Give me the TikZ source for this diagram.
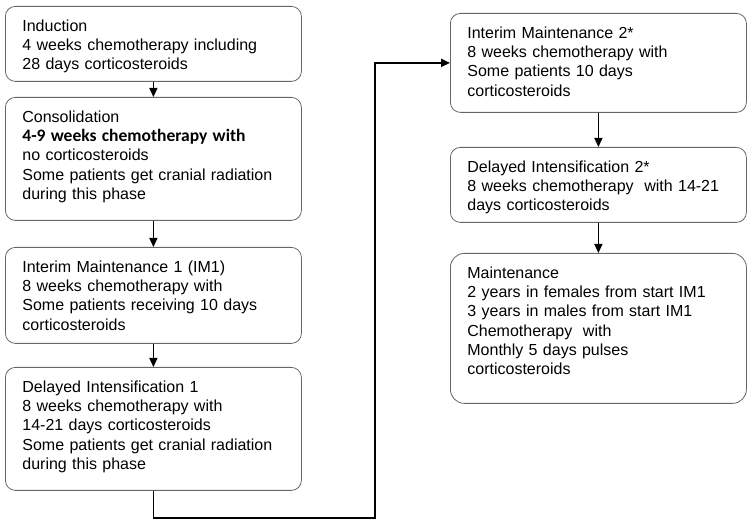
\documentclass[tikz,border=0pt]{standalone}
\usepackage{fontspec}
\setmainfont{Liberation Sans}
\newfontfamily\calfont{Carlito}
\usetikzlibrary{arrows.meta}

\tikzset{
    phase/.style={draw=black!60, line width=0.8pt, rounded corners=10pt, anchor=north west,
        text width=262pt, inner xsep=17pt, inner ysep=0pt, text height=25pt, align=left,
        font=\fontsize{16}{19.3}\selectfont},
    flow/.style={-{Triangle[length=9pt,width=8pt]}, line width=1.4pt},
}

\begin{document}
\begin{tikzpicture}[x=1pt, y=-1pt]
        \useasboundingbox (0,0) rectangle (750,526);

        % Left column of phases
        \node[phase, text depth=50pt] (induction) at (5,6)
            {Induction\\4 weeks chemotherapy including\\28 days corticosteroids};
        \node[phase, text depth=98pt] (consolidation) at (5,97)
            {Consolidation\\{\calfont\fontsize{17.5}{19.3}\selectfont\bfseries 4-9 weeks chemotherapy with}\\no corticosteroids\\Some patients get cranial radiation\\during this phase};
        \node[phase, text depth=71pt] (im1) at (5,247)
            {Interim Maintenance 1 (IM1)\\8 weeks chemotherapy with\\Some patients receiving 10 days\\corticosteroids};
        \node[phase, text depth=98pt] (di1) at (5,367)
            {Delayed Intensification 1\\8 weeks chemotherapy with\\14-21 days corticosteroids\\Some patients get cranial radiation\\during this phase};

        % Right column of phases
        \node[phase, text depth=74pt] (im2) at (450,13)
            {Interim Maintenance 2*\\8 weeks chemotherapy with\\Some patients 10 days\\corticosteroids};
        \node[phase, text depth=50pt] (di2) at (450,147)
            {Delayed Intensification 2*\\8 weeks chemotherapy\ \ with 14-21\\days corticosteroids};
        \node[phase, text depth=125pt, rounded corners=14pt] (maint) at (450,253)
            {Maintenance\\2 years in females from start IM1\\3 years in males from start IM1\\Chemotherapy\ \ with\\Monthly 5 days pulses\\corticosteroids};

        % Arrows between phases
        \draw[flow] (induction.south) -- (consolidation.north);
        \draw[flow] (consolidation.south) -- (im1.north);
        \draw[flow] (im1.south) -- (di1.north);
        \draw[flow] (im2.south) -- (di2.north);
        \draw[flow] (di2.south) -- (maint.north);

        % Jump to the second column
        \coordinate (bend) at (375,518);
        \draw[flow, line width=1.8pt] (di1.south) |- (bend) |- (im2.west);

    \end{tikzpicture}
\end{document}
